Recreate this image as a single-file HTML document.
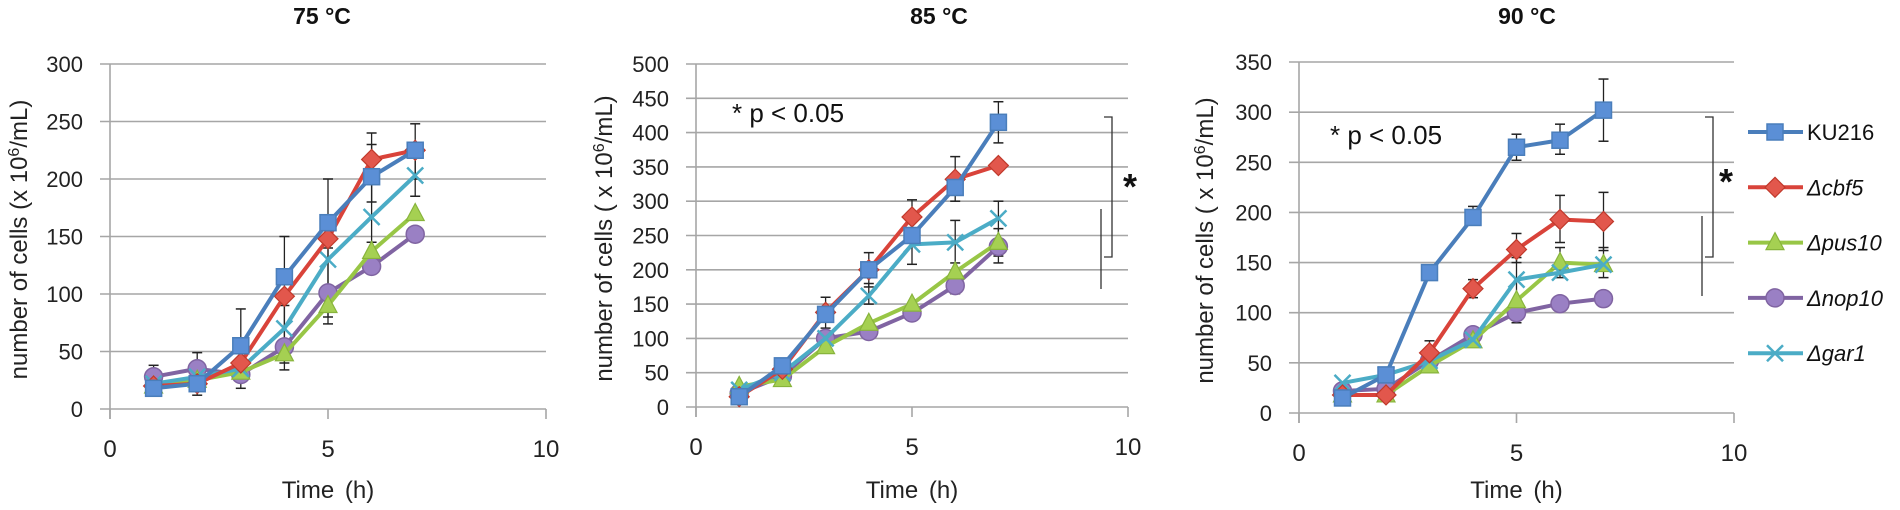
<!DOCTYPE html>
<html><head><meta charset="utf-8"><style>
html,body{margin:0;padding:0;background:#fff;}
svg{display:block;font-family:"Liberation Sans",sans-serif;}
</style></head><body>
<svg id="s" width="1900" height="510" viewBox="0 0 1900 510" xmlns="http://www.w3.org/2000/svg"></svg>
<script>
const S=document.getElementById('s');
let out='';
const C={b:['#4a7ebb','#5b8fd6'],r:['#d9433a','#e2574c'],g:['#98c646','#a5d052'],p:['#8064a2','#9a80c4'],c:['#4bacc6','#4bacc6']};
function panel(o){
  const {x0,x10,y0,ytop,ymax,step,title,tx,ylab,ylx,data,err}=o;
  const X=v=>x0+(x10-x0)*v/10, Y=v=>y0-(y0-ytop)*v/ymax;
  for(let v=0;v<=ymax;v+=step){const y=Y(v);
    out+=`<line x1="${x0-10}" x2="${x10}" y1="${y}" y2="${y}" stroke="#a6a6a6" stroke-width="1.6"/>`;
    out+=`<text x="${x0-27}" y="${y+8}" font-size="22" text-anchor="end" fill="#222">${v}</text>`;}
  out+=`<line x1="${x0}" x2="${x0}" y1="${ytop}" y2="${y0+10}" stroke="#a6a6a6" stroke-width="1.6"/>`;
  [0,5,10].forEach(t=>{const x=X(t);out+=`<line x1="${x}" x2="${x}" y1="${y0}" y2="${y0+10}" stroke="#a6a6a6" stroke-width="1.6"/>`;
    out+=`<text x="${x}" y="${y0+48}" font-size="24" text-anchor="middle" fill="#222">${t}</text>`;});
  out+=`<text x="${(x0+x10)/2}" y="498" font-size="24" text-anchor="middle" word-spacing="4" fill="#222">Time (h)</text>`;
  out+=`<text x="${tx}" y="24" font-size="23" font-weight="bold" text-anchor="middle" fill="#111">${title}</text>`;
  out+=`<text transform="translate(${ylx},${(y0+ytop)/2+3}) rotate(-90)" font-size="24" text-anchor="middle" fill="#222">${ylab}</text>`;
  err.forEach(e=>{const x=X(e[0]);out+=`<line x1="${x}" x2="${x}" y1="${Y(e[1])}" y2="${Y(e[2])}" stroke="#222" stroke-width="1.3"/>`;
    [e[1],e[2]].forEach(v=>out+=`<line x1="${x-5}" x2="${x+5}" y1="${Y(v)}" y2="${Y(v)}" stroke="#222" stroke-width="1.5"/>`);});
  ['p','g','c','r','b'].forEach(k=>{const d=data[k];const pts=d.map((v,i)=>[X(i+1),Y(v)]);
    out+=`<polyline fill="none" stroke="${C[k][0]}" stroke-width="4" stroke-linejoin="round" points="${pts.map(p=>p.join(',')).join(' ')}"/>`;
    pts.forEach(p=>out+=marker(k,p[0],p[1]));});
}
function marker(k,x,y){
  const c=C[k];
  if(k=='b')return `<rect x="${x-8}" y="${y-8}" width="16" height="16" fill="${c[1]}" stroke="${c[0]}" stroke-width="1.5"/>`;
  if(k=='r')return `<polygon points="${x},${y-10} ${x+10},${y} ${x},${y+10} ${x-10},${y}" fill="${c[1]}" stroke="#c0392b" stroke-width="1.2"/>`;
  if(k=='g')return `<polygon points="${x},${y-10} ${x+9},${y+7} ${x-9},${y+7}" fill="${c[1]}" stroke="#88b43c" stroke-width="1.2"/>`;
  if(k=='p')return `<circle cx="${x}" cy="${y}" r="9" fill="${c[1]}" stroke="${c[0]}" stroke-width="1.5"/>`;
  return `<path d="M${x-8} ${y-8}L${x+8} ${y+8}M${x+8} ${y-8}L${x-8} ${y+8}" stroke="${c[0]}" stroke-width="2.5"/>`;
}
panel({x0:110,x10:546,y0:409,ytop:64,ymax:300,step:50,title:'75 °C',tx:322,ylx:27,
 ylab:'number of cells (x 10<tspan dy="-8" font-size="16">6</tspan><tspan dy="8">/mL)</tspan>',
 data:{b:[18,22,55,115,162,202,225],r:[20,22,40,98,148,217,225],g:[20,25,32,48,90,137,170],p:[28,35,30,54,101,124,152],c:[22,28,35,70,130,167,203]},
 err:[[1,18,38],[2,12,49],[3,18,87],[4,34,150],[5,74,200],[6,145,240],[7,200,248],[4,40,90],[5,80,140],[6,180,230],[7,185,225]]});
panel({x0:696,x10:1128,y0:407,ytop:64,ymax:500,step:50,title:'85 °C',tx:939,ylx:612,
 ylab:'number of cells ( x 10<tspan dy="-8" font-size="16">6</tspan><tspan dy="8">/mL)</tspan>',
 data:{b:[15,60,135,200,250,320,415],r:[15,55,138,200,277,332,352],g:[30,40,88,122,150,197,240],p:[20,45,100,110,137,177,234],c:[25,50,100,162,237,240,275]},
 err:[[3,115,160],[4,175,225],[4,150,180],[5,208,302],[6,300,365],[6,210,272],[7,385,445],[7,210,300],[6,165,190],[7,220,260]]});
panel({x0:1299,x10:1734,y0:413,ytop:62,ymax:350,step:50,title:'90 °C',tx:1527,ylx:1213,
 ylab:'number of cells ( x 10<tspan dy="-8" font-size="16">6</tspan><tspan dy="8">/mL)</tspan>',
 data:{b:[15,38,140,195,265,272,302],r:[18,18,60,124,163,193,191],g:[18,18,47,72,112,150,148],p:[22,24,52,78,100,109,114],c:[30,38,52,73,133,140,148]},
 err:[[3,55,72],[4,115,133],[4,188,206],[5,252,278],[6,258,288],[7,271,333],[5,150,179],[6,170,217],[7,162,220],[5,90,155],[6,135,165],[7,135,165]]});
out+=`<text x="732" y="122" font-size="26" fill="#111">* p &lt; 0.05</text>`;
out+=`<text x="1330" y="144" font-size="26" fill="#111">* p &lt; 0.05</text>`;
function br(xa,xb,yt,yb,y2t,y2b,sx,sy){
 out+=`<polyline fill="none" stroke="#333" stroke-width="1.3" points="${xa},${yt} ${xb},${yt} ${xb},${yb} ${xa},${yb}"/>`;
 out+=`<line x1="${xa-3}" x2="${xa-3}" y1="${y2t}" y2="${y2b}" stroke="#333" stroke-width="1.3"/>`;
 out+=`<text x="${sx}" y="${sy}" font-size="36" font-weight="bold" fill="#111" text-anchor="middle">*</text>`;
}
br(1104,1112,117,257,209,289,1130,199);
br(1705,1713,117,257,216,296,1726,194);
const L=[['b','KU216',false],['r','Δcbf5',true],['g','Δpus10',true],['p','Δnop10',true],['c','Δgar1',true]];
L.forEach((l,i)=>{const y=132+i*55.3;
 out+=`<line x1="1748" x2="1803" y1="${y}" y2="${y}" stroke="${C[l[0]][0]}" stroke-width="4"/>`;
 out+=marker(l[0],1775,y);
 out+=`<text x="1807" y="${y+8}" font-size="22" ${l[2]?'font-style="italic"':''} fill="#111">${l[1]}</text>`;});
S.innerHTML=out;
</script>
</body></html>
